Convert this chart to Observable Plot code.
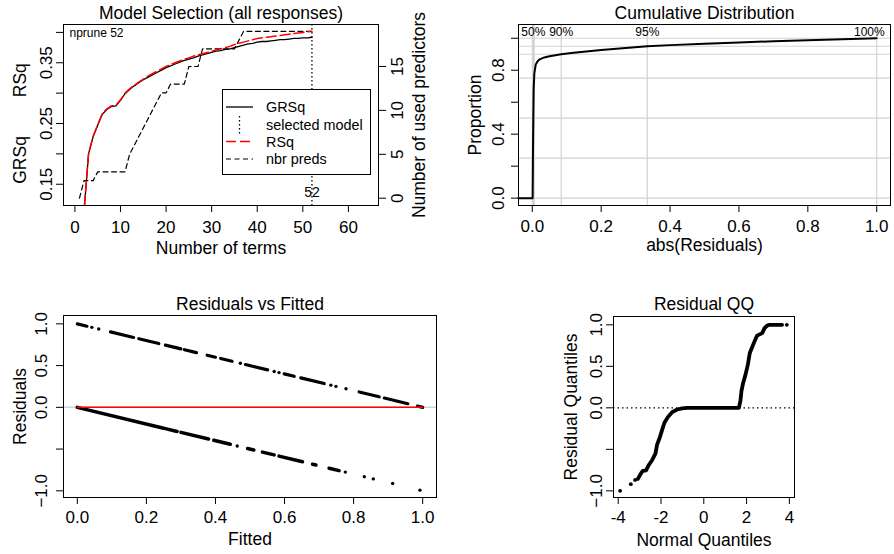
<!DOCTYPE html>
<html>
<head>
<meta charset="utf-8">
<script src="https://cdn.jsdelivr.net/npm/d3@7"></script>
<script src="https://cdn.jsdelivr.net/npm/@observablehq/plot@0.6"></script>
<style>
  html, body { margin: 0; padding: 0; background: #ffffff; }
  #chart { position: relative; width: 894px; height: 554px; overflow: hidden; background: #ffffff; }
  #chart > svg { position: absolute; left: 0; top: 0; overflow: visible; }
</style>
</head>
<body>
<div id="chart"></div>
<script>
// ================= DATA =================
// Panel 1: Model Selection (all responses)
const nTerms = [1,2,3,4,5,6,7,8,9,10,11,12,13,14,15,16,17,18,19,20,21,22,23,24,25,26,27,28,29,30,31,32,33,34,35,36,37,38,39,40,41,42,43,44,45,46,47,48,49,50,51,52];
const grsq = [0.000,0.105,0.200,0.228,0.247,0.265,0.273,0.278,0.279,0.288,0.299,0.306,0.312,0.317,0.322,0.326,0.330,0.334,0.338,0.342,0.345,0.348,0.351,0.354,0.356,0.358,0.361,0.363,0.365,0.367,0.369,0.370,0.372,0.373,0.375,0.377,0.379,0.381,0.382,0.384,0.385,0.385,0.386,0.387,0.388,0.388,0.389,0.390,0.390,0.391,0.391,0.392];
const rsq = [0.000,0.106,0.201,0.229,0.248,0.266,0.274,0.279,0.280,0.289,0.300,0.307,0.313,0.318,0.323,0.328,0.332,0.336,0.340,0.344,0.347,0.350,0.353,0.356,0.358,0.361,0.363,0.365,0.367,0.369,0.371,0.373,0.375,0.377,0.380,0.382,0.384,0.386,0.388,0.390,0.391,0.392,0.393,0.394,0.395,0.396,0.397,0.398,0.399,0.400,0.401,0.402];
const nbrPreds = [0,2,2,2,3,3,3,3,3,3,3,5,6,7,8,9,10,11,12,12,13,13,13,13,15,15,15,17,17,17,17,17,17,17,17,18,19,19,19,19,19,19,19,19,19,19,19,19,19,19,19,19];
const selectedTerms = 52;
const p1XTicks = [0, 10, 20, 30, 40, 50, 60];
const p1YTicks = [0.15, 0.2, 0.25, 0.3, 0.35, 0.4];
const p1YTickLabels = [0.15, 0.25, 0.35];
const p1RightTicks = [0, 5, 10, 15];
const legendLabels = ["GRSq", "selected model", "RSq", "nbr preds"];

// Panel 2: Cumulative Distribution
const cdfAbsResid = [-0.04, 0.001, 0.002, 0.003, 0.004, 0.006, 0.010, 0.015, 0.020, 0.035, 0.050, 0.084, 0.120, 0.200, 0.334, 0.400, 0.500, 0.600, 0.700, 0.800, 0.900, 1.000];
const cdfProportion = [0, 0, 0.30, 0.50, 0.68, 0.78, 0.835, 0.855, 0.866, 0.880, 0.888, 0.900, 0.910, 0.926, 0.950, 0.957, 0.966, 0.974, 0.981, 0.988, 0.994, 1.000];
const cdfGridProportions = [0, 0.25, 0.5, 0.75, 0.9, 0.95, 1];
const quantileAbsResid = [0.003, 0.084, 0.334, 1.0];
const quantileLabels = ["50%", "90%", "95%", "100%"];
const p2XTicks = [0, 0.2, 0.4, 0.6, 0.8, 1.0];
const p2YTicks = [0, 0.2, 0.4, 0.6, 0.8, 1.0];
const p2YTickLabels = [0, 0.4, 0.8];

// Panel 3: Residuals vs Fitted (runs of overlapping points, and isolated points)
const upperRunsFitted = [[0.000,0.028],[0.096,0.163],[0.178,0.236],[0.255,0.300],[0.310,0.345],[0.376,0.400],[0.415,0.448],[0.487,0.551],[0.599,0.628],[0.647,0.715],[0.816,0.874],[0.889,0.957],[0.985,1.000]];
const upperRunsResid = [[1.000,0.972],[0.904,0.837],[0.822,0.764],[0.745,0.700],[0.690,0.655],[0.624,0.600],[0.585,0.552],[0.513,0.449],[0.401,0.372],[0.353,0.285],[0.184,0.126],[0.111,0.043],[0.015,0.000]];
const upperDotsFitted = [0.042, 0.062, 0.472, 0.570, 0.584, 0.734, 0.749, 0.778];
const upperDotsResid = [0.958, 0.938, 0.528, 0.430, 0.416, 0.266, 0.251, 0.222];
const lowerRunsFitted = [[0.000,0.250],[0.255,0.289],[0.300,0.380],[0.395,0.443],[0.493,0.511],[0.536,0.570],[0.584,0.652],[0.681,0.691],[0.729,0.758]];
const lowerRunsResid = [[0.000,-0.250],[-0.255,-0.289],[-0.300,-0.380],[-0.395,-0.443],[-0.493,-0.511],[-0.536,-0.570],[-0.584,-0.652],[-0.681,-0.691],[-0.729,-0.758]];
const lowerDotsFitted = [0.463, 0.776, 0.831, 0.857, 0.913, 0.992];
const lowerDotsResid = [-0.463, -0.776, -0.831, -0.857, -0.913, -0.992];
const smoothFitted = [0, 1];
const smoothResid = [0, 0];
const p3XTicks = [0, 0.2, 0.4, 0.6, 0.8, 1.0];
const p3YTicks = [-1, -0.5, 0, 0.5, 1];
const p3YTickLabels = [-1, 0, 0.5, 1];

// Panel 4: Residual QQ
const qqTheoretical = [-3.08, -2.93, -2.85, -2.70, -2.57, -2.41, -2.26, -2.18, -2.06, -1.94, -1.84, -1.68, -1.48, -1.24, -1.01, -0.78, 1.64, 1.71, 1.76, 1.84, 1.95, 2.06, 2.15, 2.26, 2.37, 2.49, 2.73, 2.84, 2.96, 3.08, 3.66];
const qqResidual = [-0.856, -0.787, -0.760, -0.752, -0.688, -0.628, -0.552, -0.440, -0.360, -0.260, -0.180, -0.112, -0.052, -0.020, -0.007, 0.000, 0.000, 0.080, 0.200, 0.300, 0.400, 0.520, 0.660, 0.730, 0.800, 0.870, 0.900, 0.960, 0.990, 1.000, 1.000];
const qqTailTheoretical = [-3.91, -3.41, -3.21, 3.88];
const qqTailResidual = [-1.000, -0.920, -0.868, 1.000];
const p4XTicks = [-4, -2, 0, 2, 4];
const p4YTicks = [-1, -0.5, 0, 0.5, 1];
const p4YTickLabels = [-1, 0, 0.5, 1];

// ================= DRAWING =================
const W = 894, H = 554;
const FONT = '"Liberation Sans", Arial, Helvetica, sans-serif';
const TICK_FS = 17, LAB_FS = 17.5;
const f1 = d3.format(".1f");
const chart = document.getElementById("chart");

function panel(box, xDomain, yDomain, marks, xExtra = {}) {
  return Plot.plot({
    width: W, height: H,
    marginLeft: box.l, marginRight: W - box.r, marginTop: box.t, marginBottom: H - box.b,
    style: {background: "transparent", fontFamily: FONT, overflow: "visible", color: "black"},
    x: {domain: xDomain, label: null, ...xExtra},
    y: {domain: yDomain, label: null},
    marks
  });
}
const title = (s, dy) => Plot.text([s], {text: d => d, frameAnchor: "top", dy, lineAnchor: "middle", fontSize: LAB_FS});
const xLabel = (s, dy) => Plot.text([s], {text: d => d, frameAnchor: "bottom", dy, lineAnchor: "middle", fontSize: LAB_FS});
const yLabel = (s, anchor, dx, dy = 0) => Plot.text([s], {text: d => d, frameAnchor: anchor, dx, dy, rotate: -90, textAnchor: "middle", lineAnchor: "middle", fontSize: LAB_FS});
const yTickText = (vals, anchor, dx, fmt) => Plot.text(vals, {y: d => d, text: fmt, frameAnchor: anchor, dx, rotate: -90, textAnchor: "middle", lineAnchor: "middle", fontSize: TICK_FS});
const xAxis = (ticks, fmt, pad) => Plot.axisX(ticks, {tickSize: 7, tickPadding: pad, fontSize: TICK_FS, tickFormat: fmt, label: null, stroke: "black"});
const yAxis = (ticks, anchor = "left") => Plot.axisY(ticks, {anchor, tickSize: 7, tickFormat: () => "", label: null, stroke: "black"});

// ---- Panel 1 ----
const box1 = {l: 63, r: 378, t: 24, b: 205};
const p1XDomain = [-2.5, 66.6];
const p1Right = panel(box1, p1XDomain, [-0.83, 19.78], [
  Plot.line(nTerms, {x: nTerms, y: nbrPreds, stroke: "black", strokeWidth: 1.2, strokeDasharray: "5,3.5"}),
  yAxis(p1RightTicks, "right"),
  yTickText(p1RightTicks, "right", 19, d => String(d)),
  yLabel("Number of used predictors", "right", 41)
], {axis: null});
const p1 = panel(box1, p1XDomain, [0.115, 0.413], [
  Plot.ruleX([selectedTerms], {x: d => d, stroke: "black", strokeWidth: 1.3, strokeDasharray: "1.5,2.5"}),
  Plot.line(nTerms, {x: nTerms, y: grsq, stroke: "black", strokeWidth: 1.3, clip: true}),
  Plot.line(nTerms, {x: nTerms, y: rsq, stroke: "#ff0000", strokeWidth: 1.5, strokeDasharray: "10,4", clip: true}),
  Plot.frame({stroke: "black"}),
  xAxis(p1XTicks, d => String(d), 8),
  yAxis(p1YTicks),
  yTickText(p1YTickLabels, "left", -17, d => String(d)),
  title("Model Selection (all responses)", -11),
  xLabel("Number of terms", 43),
  yLabel("GRSq        RSq", "left", -43, 8.5),
  Plot.text(["nprune " + selectedTerms], {text: d => d, frameAnchor: "top-left", dx: 6, dy: 9, textAnchor: "start", lineAnchor: "middle", fontSize: 12}),
  Plot.text([selectedTerms], {x: d => d, text: d => String(d), frameAnchor: "bottom", dy: -13, lineAnchor: "middle", fontSize: 14})
]);
chart.appendChild(p1Right);
chart.appendChild(p1);

// Legend (drawn over panel 1 plot area, like R's legend box)
const lg = d3.select(chart).append("svg")
  .attr("width", 150).attr("height", 88)
  .style("left", "222px").style("top", "89px")
  .style("font-family", FONT);
lg.append("rect").attr("x", 0.5).attr("y", 0.5).attr("width", 148).attr("height", 85)
  .attr("fill", "white").attr("stroke", "black");
const rowsY = [18, 36, 52.5, 70];
const lgStyles = [
  {stroke: "black", dash: null, w: 1.3},
  null,
  {stroke: "#ff0000", dash: "10,4", w: 1.5},
  {stroke: "black", dash: "5,3.5", w: 1.2}
];
legendLabels.forEach((lab, i) => {
  const y = rowsY[i];
  const s = lgStyles[i];
  if (s) {
    lg.append("line").attr("x1", 4).attr("x2", 31).attr("y1", y).attr("y2", y)
      .attr("stroke", s.stroke).attr("stroke-width", s.w).attr("stroke-dasharray", s.dash);
  } else {
    lg.append("line").attr("x1", 17.5).attr("x2", 17.5).attr("y1", y - 9).attr("y2", y + 9)
      .attr("stroke", "black").attr("stroke-width", 1.3).attr("stroke-dasharray", "1.5,2.5");
  }
  lg.append("text").attr("x", 44).attr("y", y).attr("dy", "0.35em")
    .attr("font-size", 14.4).attr("fill", "black").text(lab);
});

// ---- Panel 2 ----
const box2 = {l: 518, r: 890, t: 24, b: 205};
const p2 = panel(box2, [-0.04, 1.04], [-0.046, 1.086], [
  Plot.ruleY(cdfGridProportions, {y: d => d, stroke: "#d3d3d3", strokeWidth: 1.2}),
  Plot.ruleX(quantileAbsResid, {x: d => d, stroke: "#d3d3d3", strokeWidth: (d, i) => (i === 0 ? 3 : 1.2)}),
  Plot.line(cdfAbsResid, {x: cdfAbsResid, y: cdfProportion, stroke: "black", strokeWidth: 2}),
  Plot.frame({stroke: "black"}),
  Plot.text(quantileAbsResid.slice(0, 3), {x: d => d, text: (d, i) => quantileLabels[i], frameAnchor: "top", dy: 8, lineAnchor: "middle", fontSize: 12}),
  Plot.text(quantileAbsResid.slice(3), {x: d => d, text: (d, i) => quantileLabels[3 + i], frameAnchor: "top", dy: 8, dx: 8, textAnchor: "end", lineAnchor: "middle", fontSize: 12}),
  xAxis(p2XTicks, f1, 7),
  yAxis(p2YTicks),
  yTickText(p2YTickLabels, "left", -20, f1),
  title("Cumulative Distribution", -11),
  xLabel("abs(Residuals)", 40),
  yLabel("Proportion", "left", -43.5)
]);
chart.appendChild(p2);

// ---- Panel 3 ----
const box3 = {l: 63, r: 436, t: 315, b: 497};
const p3 = panel(box3, [-0.04, 1.04], [-1.08, 1.10], [
  Plot.ruleY([0], {y: d => d, stroke: "#d3d3d3", strokeWidth: 1.5}),
  Plot.link(upperRunsFitted, {x1: d => d[0], x2: d => d[1], y1: (d, i) => upperRunsResid[i][0], y2: (d, i) => upperRunsResid[i][1], stroke: "black", strokeWidth: 3.2, strokeLinecap: "round"}),
  Plot.dot(upperDotsFitted, {x: d => d, y: (d, i) => upperDotsResid[i], r: 1.7, fill: "black", stroke: "none"}),
  Plot.link(lowerRunsFitted, {x1: d => d[0], x2: d => d[1], y1: (d, i) => lowerRunsResid[i][0], y2: (d, i) => lowerRunsResid[i][1], stroke: "black", strokeWidth: 3.5, strokeLinecap: "round"}),
  Plot.dot(lowerDotsFitted, {x: d => d, y: (d, i) => lowerDotsResid[i], r: 1.7, fill: "black", stroke: "none"}),
  Plot.line(smoothFitted, {x: smoothFitted, y: smoothResid, stroke: "#ff0000", strokeWidth: 1.5}),
  Plot.frame({stroke: "black"}),
  xAxis(p3XTicks, f1, 6),
  yAxis(p3YTicks),
  yTickText(p3YTickLabels, "left", -22, f1),
  title("Residuals vs Fitted", -11),
  xLabel("Fitted", 42),
  yLabel("Residuals", "left", -43)
]);
chart.appendChild(p3);

// ---- Panel 4 ----
const box4 = {l: 613, r: 794, t: 316, b: 497};
const p4 = panel(box4, [-4.22, 4.24], [-1.08, 1.10], [
  Plot.ruleY([0], {y: d => d, stroke: "black", strokeWidth: 1.2, strokeDasharray: "1.5,3"}),
  Plot.line(qqTheoretical, {x: qqTheoretical, y: qqResidual, stroke: "black", strokeWidth: 3.8, strokeLinecap: "round", strokeLinejoin: "round"}),
  Plot.dot(qqTailTheoretical, {x: qqTailTheoretical, y: qqTailResidual, r: 1.9, fill: "black", stroke: "none"}),
  Plot.frame({stroke: "black"}),
  xAxis(p4XTicks, d => String(d), 6),
  yAxis(p4YTicks),
  yTickText(p4YTickLabels, "left", -17, f1),
  title("Residual QQ", -12),
  xLabel("Normal Quantiles", 43),
  yLabel("Residual Quantiles", "left", -42)
]);
chart.appendChild(p4);
</script>
</body>
</html>
